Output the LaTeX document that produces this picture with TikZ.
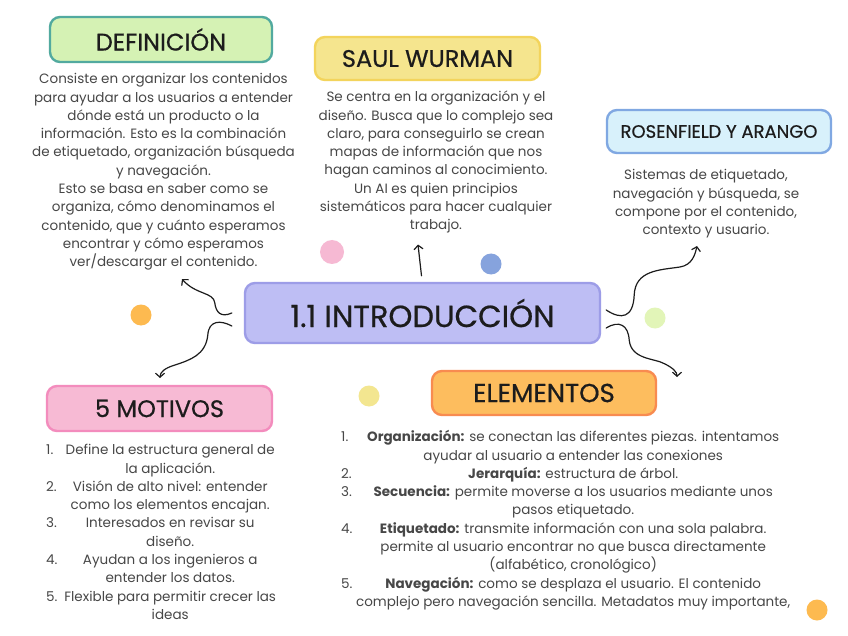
\documentclass[tikz,border=0pt]{standalone}
\usepackage{fontspec}
\setmainfont{Poppins}
\newfontfamily\headfont[FakeBold=0.6]{Poppins}
\usepackage{tikz}
\usetikzlibrary{arrows.meta,calc}
\definecolor{Ink}{HTML}{1C1C1C}
\definecolor{Body}{HTML}{474747}
\definecolor{DefFill}{HTML}{D5F2B4}
\definecolor{DefLine}{HTML}{52AA9F}
\definecolor{SauFill}{HTML}{F5E58E}
\definecolor{SauLine}{HTML}{F3D45C}
\definecolor{RosFill}{HTML}{D8F1FB}
\definecolor{RosLine}{HTML}{80A8E2}
\definecolor{IntFill}{HTML}{BEBEF4}
\definecolor{IntLine}{HTML}{9D9DE7}
\definecolor{MotFill}{HTML}{F7BAD4}
\definecolor{MotLine}{HTML}{F38CBD}
\definecolor{EleFill}{HTML}{FDBD5E}
\definecolor{EleLine}{HTML}{F88B50}
\definecolor{SpotPink}{HTML}{F6B9D3}
\definecolor{SpotBlue}{HTML}{86A3DD}
\definecolor{SpotOrange}{HTML}{FDBA50}
\definecolor{SpotLime}{HTML}{E2F5B8}
\definecolor{SpotYellow}{HTML}{F3E690}
\newcommand{\lineof}[2]{\makebox[#1]{#2}}
\tikzset{
  headbox/.style={rounded corners=10pt, line width=2.4pt, align=center, inner sep=0pt, font=\headfont\fontsize{24}{27}\selectfont, text=Ink},
  bodytext/.style={align=center, inner sep=0pt, anchor=north, font=\fontsize{13.5}{18.3}\selectfont, text=Body},
  wavyarrow/.style={-{Straight Barb[length=4pt,width=9pt]}, line width=1.2pt, draw=Ink, line cap=round},
  spot/.style={circle, inner sep=0pt, minimum size=#1},
}

\begin{document}
\begin{tikzpicture}[x=1pt,y=-1pt]
\path[use as bounding box] (0,0) rectangle (848,636);
\fill[white] (0,0) rectangle (848,636);

% title boxes
\node[headbox,fill=DefFill,draw=DefLine,minimum width=222pt,minimum height=45pt] (def) at (161,39.5) {DEFINICIÓN};
\node[headbox,fill=SauFill,draw=SauLine,minimum width=225pt,minimum height=43pt] (sau) at (427.5,58.5) {SAUL WURMAN};
\node[headbox,fill=RosFill,draw=RosLine,minimum width=224pt,minimum height=43pt,font=\headfont\fontsize{18}{20}\selectfont] (ros) at (719,131.5) {ROSENFIELD Y ARANGO};
\node[headbox,fill=IntFill,draw=IntLine,minimum width=355pt,minimum height=60pt,font=\headfont\fontsize{30.5}{33}\selectfont] (intro) at (422.5,313) {1.1 INTRODUCCIÓN};
\node[headbox,fill=MotFill,draw=MotLine,minimum width=225pt,minimum height=45pt] (mot) at (159.5,408.5) {5 MOTIVOS};
\node[headbox,fill=EleFill,draw=EleLine,minimum width=224pt,minimum height=44pt,font=\headfont\fontsize{26}{29}\selectfont] (ele) at (544,393) {ELEMENTOS};

% texts
\node[bodytext] (deftext) at (163.5,70.7) {\strut Consiste en organizar los contenidos\\para ayudar a los usuarios a entender\\dónde está un producto o la\\información. Esto es la combinación\\de etiquetado, organización búsqueda\\y navegación.\\Esto se basa en saber como se\\organiza, cómo denominamos el\\contenido, que y cuánto esperamos\\encontrar y cómo esperamos\\ver/descargar el contenido.};
\node[bodytext] (sautext) at (436,88.7) {\strut Se centra en la organización y el\\diseño. Busca que lo complejo sea\\claro, para conseguirlo se crean\\mapas de información que nos\\hagan caminos al conocimiento.\\Un AI es quien principios\\sistemáticos para hacer cualquier\\trabajo.};
\node[bodytext] (rostext) at (706,166.7) {\strut Sistemas de etiquetado,\\navegación y búsqueda, se\\compone por el contenido,\\contexto y usuario.};

\node[bodytext,anchor=north west] (mottext) at (46,441.7) {\begin{tabular}{@{}p{16pt}@{}l@{}}
1. & \lineof{216pt}{Define la estructura general de}\\
 & \lineof{216pt}{la aplicación.}\\
2. & \lineof{216pt}{Visión de alto nivel: entender}\\
 & \lineof{216pt}{como los elementos encajan.}\\
3. & \lineof{216pt}{Interesados en revisar su}\\
 & \lineof{216pt}{diseño.}\\
4. & \lineof{216pt}{Ayudan a los ingenieros a}\\
 & \lineof{216pt}{entender los datos.}\\
5. & \lineof{216pt}{Flexible para permitir crecer las}\\
 & \lineof{216pt}{ideas}\\
\end{tabular}};

\node[bodytext,anchor=north west] (eletext) at (341,428.7) {\begin{tabular}{@{}p{15pt}@{}l@{}}
1. & \lineof{434pt}{\textbf{Organización:} se conectan las diferentes piezas. intentamos}\\
 & \lineof{434pt}{ayudar al usuario a entender las conexiones}\\
2. & \lineof{434pt}{\textbf{Jerarquía:} estructura de árbol.}\\
3. & \lineof{434pt}{\textbf{Secuencia:} permite moverse a los usuarios mediante unos}\\
 & \lineof{434pt}{pasos etiquetado.}\\
4. & \lineof{434pt}{\textbf{Etiquetado:} transmite información con una sola palabra.}\\
 & \lineof{434pt}{permite al usuario encontrar no que busca directamente}\\
 & \lineof{434pt}{(alfabético, cronológico)}\\
5. & \lineof{434pt}{\textbf{Navegación:} como se desplaza el usuario. El contenido}\\
 & \lineof{434pt}{complejo pero navegación sencilla. Metadatos muy importante,}\\
\end{tabular}};

% decorative spots
\node[spot=24pt,fill=SpotPink] (s1) at (332,252) {};
\node[spot=21pt,fill=SpotBlue] (s2) at (491,264) {};
\node[spot=21pt,fill=SpotOrange] (s3) at (141,315) {};
\node[spot=21pt,fill=SpotLime] (s4) at (655,318) {};
\node[spot=21pt,fill=SpotYellow] (s5) at (369,396) {};
\node[spot=21pt,fill=SpotOrange] (s6) at (817,610) {};

% connectors
\coordinate (defend) at (182,279);
\coordinate (motend) at (160,378);
\coordinate (rosend) at (697,246);
\coordinate (eleend) at (677,377);
\draw[wavyarrow] ($(intro.north)+(-1,-6)$) -- ($(sautext.south)+(-18,11)$);
\draw[wavyarrow] ($(intro.west)+(-12,0)$) .. controls ($(intro.west)+(-23,5)$) and ($(intro.west)+(-28,-1)$) .. ($(intro.west)+(-29,-10)$) .. controls ($(intro.west)+(-30,-21)$) and ($(defend)+(14,16)$) .. (defend);
\draw[wavyarrow] ($(intro.west)+(-12,13)$) .. controls ($(intro.west)+(-23,7)$) and ($(intro.west)+(-35,7)$) .. ($(intro.west)+(-36,22)$) .. controls ($(intro.west)+(-38,42)$) and ($(motend)+(30,-18)$) .. ($(motend)+(15,-13)$) .. controls ($(motend)+(5,-10)$) and ($(motend)+(0,-6)$) .. (motend);
\draw[wavyarrow] ($(intro.east)+(5,-3)$) .. controls ($(intro.east)+(20,7)$) and ($(intro.east)+(32,5)$) .. ($(intro.east)+(33,-18)$) .. controls ($(intro.east)+(34,-43)$) and ($(rosend)+(-37,24)$) .. ($(rosend)+(-17,21)$) .. controls ($(rosend)+(-5,19)$) and ($(rosend)+(-2,9)$) .. (rosend);
\draw[wavyarrow] ($(intro.east)+(5,15)$) .. controls ($(intro.east)+(18,7)$) and ($(intro.east)+(27,12)$) .. ($(intro.east)+(28,27)$) .. controls ($(intro.east)+(30,47)$) and ($(eleend)+(-22,-19)$) .. ($(eleend)+(-12,-13)$) .. controls ($(eleend)+(-4,-9)$) and ($(eleend)+(0,-5)$) .. (eleend);
\end{tikzpicture}
\end{document}
